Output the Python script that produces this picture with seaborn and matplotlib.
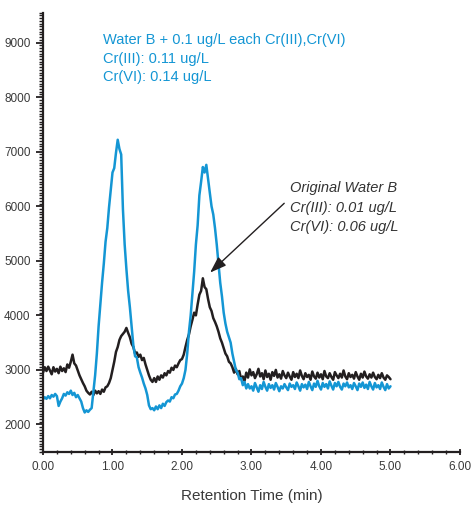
import numpy as np
import pandas as pd
import matplotlib
matplotlib.use("Agg")
import matplotlib.pyplot as plt
from matplotlib.ticker import MultipleLocator, FixedLocator
import seaborn as sns

# sampling grid of the chromatogram (min)
time_step = 0.025
n_points = 201

# Water B spiked with 0.1 ug/L each Cr(III), Cr(VI)  (blue)
spiked = [
    2460, 2500, 2470, 2520, 2480, 2540, 2510, 2560, 2520, 2340,
    2420, 2480, 2560, 2530, 2590, 2560, 2620, 2540, 2580, 2500,
    2540, 2480, 2420, 2300, 2220, 2260, 2230, 2270, 2300, 2600,
    2900, 3300, 3800, 4200, 4600, 4950, 5350, 5600, 5980, 6300,
    6620, 6700, 6980, 7220, 7050, 6950, 5950, 5300, 4850, 4450,
    4150, 3800, 3450, 3250, 3230, 3050, 2950, 2860, 2750, 2660,
    2540, 2350, 2280, 2300, 2260, 2330, 2280, 2350, 2300, 2380,
    2340, 2410, 2440, 2420, 2500, 2480, 2550, 2560, 2620, 2700,
    2750, 2850, 3000, 3300, 3700, 4000, 4400, 4800, 5300, 5650,
    6200, 6450, 6720, 6620, 6760, 6500, 6250, 6000, 5850, 5600,
    5300, 4950, 4600, 4350, 4050, 3850, 3700, 3600, 3500, 3300,
    3150, 3000, 2950, 2830, 2850, 2720, 2780, 2660, 2740, 2660,
    2700,
    2620, 2760, 2680, 2600, 2720, 2650, 2780, 2690, 2620, 2740,
    2670, 2720, 2640, 2760, 2690, 2610, 2700, 2660, 2740, 2680,
    2630, 2750, 2690, 2720, 2650, 2770, 2700, 2620, 2740, 2680,
    2730, 2650, 2780, 2700, 2630, 2750, 2690, 2800, 2700, 2640,
    2760, 2690, 2740, 2660, 2790, 2710, 2640, 2760, 2700, 2780,
    2690, 2640, 2750, 2700, 2770, 2680, 2720, 2650, 2760, 2700,
    2630, 2750, 2690, 2770, 2670, 2730, 2650, 2780, 2700, 2640,
    2760, 2680, 2720, 2650, 2770, 2690, 2630, 2740, 2660, 2700,
]

# Original Water B  (black)
original = [
    2950, 3050, 2980, 3060, 2990, 2920, 3050, 2970, 3020, 2940,
    3060, 2980, 3030, 2960, 3100, 3040, 3150, 3280, 3120, 3080,
    2990, 2900, 2830, 2760, 2700, 2620, 2580, 2550, 2600, 2540,
    2620, 2570, 2610, 2560, 2640, 2600, 2680, 2700, 2760, 2850,
    3000, 3150, 3330, 3420, 3550, 3620, 3660, 3700, 3770, 3680,
    3600, 3480, 3420, 3300, 3320, 3240, 3280, 3180, 3220, 3100,
    3000, 2900, 2820, 2780, 2850, 2780, 2880, 2820, 2900, 2860,
    2940, 2900, 2980, 2950, 3040, 3000, 3080, 3050, 3120, 3180,
    3200, 3280, 3420, 3550, 3650, 3800, 3920, 4050, 4000, 4200,
    4380, 4450, 4680, 4520, 4480, 4300, 4150, 4080, 3950, 3880,
    3800, 3700, 3580, 3500, 3400, 3300, 3250, 3150, 3120, 3050,
    2950, 3020, 2920, 2980, 2830, 2880, 2800, 2950, 2860, 3010,
    2900,
    2960, 2850, 2920, 3020, 2880, 2940, 2830, 2990, 2870, 2930,
    2820, 2960, 2890, 3000, 2860, 2920, 2840, 2980, 2900, 2850,
    2950, 2880, 2820, 2960, 2870, 2930, 2850, 2990, 2890, 2830,
    2940, 2870, 2910, 2820, 2970, 2880, 2840, 2950, 2860, 2920,
    2830, 2980, 2880, 2850, 2940, 2870, 2820, 2960, 2900, 2850,
    2930, 2860, 2990, 2880, 2830, 2940, 2870, 2910, 2840, 2960,
    2880, 2820, 2930, 2860, 2970, 2880, 2840, 2920, 2860, 2950,
    2870, 2830, 2910, 2850, 2940, 2860, 2820, 2900, 2870, 2830,
]

spiked_label = "Water B + 0.1 ug/L each Cr(III),Cr(VI)\nCr(III): 0.11 ug/L\nCr(VI): 0.14 ug/L"
original_label = "Original Water B\nCr(III): 0.01 ug/L\nCr(VI): 0.06 ug/L"

x_ticks = [0, 1, 2, 3, 4, 5, 6]
y_ticks = [2000, 3000, 4000, 5000, 6000, 7000, 8000, 9000]

time = np.round(np.arange(n_points) * time_step, 3)

df = pd.concat([
    pd.DataFrame({"time": time, "counts": original, "sample": "original"}),
    pd.DataFrame({"time": time, "counts": spiked, "sample": "spiked"}),
])

sns.set_style("ticks")
plt.rcParams["font.family"] = ["Liberation Sans", "DejaVu Sans"]

blue = "#1496d4"
black = "#231f20"

fig = plt.figure(figsize=(4.71, 5.07), dpi=100)
ax = fig.add_axes([0.0913, 0.109, 0.8853, 0.866])

sns.lineplot(data=df, x="time", y="counts", hue="sample",
             palette={"original": black, "spiked": blue},
             hue_order=["original", "spiked"],
             estimator=None, sort=False, linewidth=1.8, legend=False, ax=ax)

ax.set_xlim(0, 6)
ax.set_ylim(1500, 9550)
ax.xaxis.set_major_locator(FixedLocator(x_ticks))
ax.xaxis.set_minor_locator(MultipleLocator(0.2))
ax.yaxis.set_major_locator(FixedLocator(y_ticks))
ax.yaxis.set_minor_locator(MultipleLocator(50))
ax.set_xticklabels([f"{v:.2f}" for v in x_ticks])
ax.set_yticklabels([str(v) for v in y_ticks])

sns.despine(ax=ax)
for s in ["left", "bottom"]:
    ax.spines[s].set_linewidth(1.6)
    ax.spines[s].set_color(black)
ax.tick_params(axis="both", which="major", length=5, width=1.3, color=black,
               labelsize=8.5, labelcolor="#3a3a3a", pad=4)
ax.tick_params(axis="both", which="minor", length=3, width=1.0, color=black)
ax.tick_params(axis="x", which="both", direction="inout")

ax.set_xlabel("Retention Time (min)", fontsize=11, color="#3a3a3a", labelpad=12)
ax.set_ylabel("")

ax.text(0.862, 9170, spiked_label, color=blue, fontsize=10.5, va="top",
        ha="left", linespacing=1.38)
ax.text(3.56, 6460, original_label, color="#333333", fontsize=10.5, va="top",
        ha="left", style="italic", linespacing=1.5)
ax.annotate("", xy=(2.375, 4750), xytext=(3.50, 6090),
            arrowprops=dict(arrowstyle="-|>,head_length=1.0,head_width=0.35",
                            color=black, lw=1.0))

fig.savefig("out.png", dpi=100)
